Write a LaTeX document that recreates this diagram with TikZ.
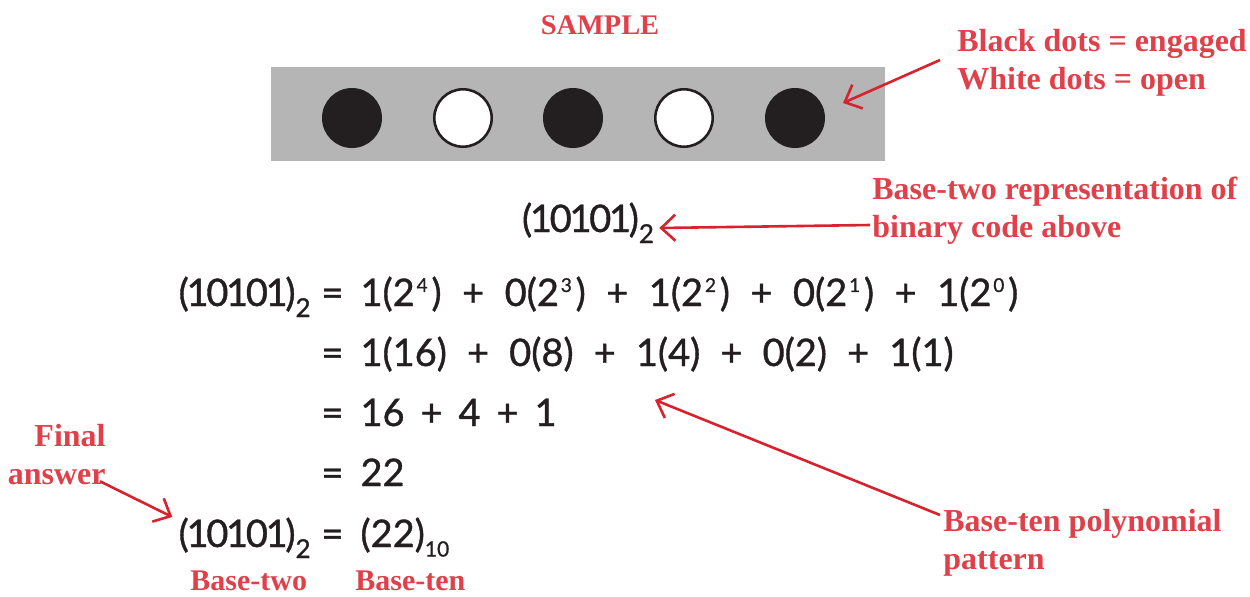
\documentclass[tikz,border=0pt]{standalone}
\usepackage{fontspec}
\setmainfont{Liberation Serif}
\newfontfamily\handfont[FakeBold=1]{Lato}
\newfontfamily\handtight[FakeBold=1,LetterSpace=-6]{Lato}
\usetikzlibrary{arrows.meta,calc}
\definecolor{ared}{RGB}{214,35,45}
\definecolor{tred}{RGB}{224,64,74}
\definecolor{dotblack}{RGB}{35,31,32}
\definecolor{boxgray}{RGB}{181,181,181}
\newcommand{\supx}[1]{\hspace{0.05em}\raisebox{0.37em}{\fontsize{9.5}{9.5}\selectfont #1}\hspace{0.1em}}
\newcommand{\subx}[1]{\raisebox{-0.29em}{\fontsize{13}{13}\selectfont #1}}
\newcommand{\subsm}[1]{\raisebox{-0.25em}{\fontsize{10.5}{10.5}\selectfont #1}}
\newcommand{\bincode}{{\handtight(10101)}\subx{2}}
\newcommand{\plsa}{\hspace{0.54em}+\hspace{0.54em}}
\newcommand{\plsb}{\hspace{0.53em}+\hspace{0.53em}}
\newcommand{\plsc}{\hspace{0.42em}+\hspace{0.42em}}
\begin{document}
\begin{tikzpicture}[x=0.5pt,y=-0.5pt,
  lbl/.style={text=tred,font=\bfseries\fontsize{16}{19}\selectfont,inner sep=0pt},
  eq/.style={font=\handfont\fontsize{19}{22}\selectfont,inner sep=0pt,text=dotblack},
  arr/.style={draw=ared,line width=1.3pt,-{Straight Barb[length=7pt,width=13pt,line width=1.3pt]}},
  blackdot/.style={circle,fill=dotblack,minimum size=30pt,inner sep=0pt},
  whitedot/.style={circle,fill=white,draw=dotblack,line width=1.3pt,minimum size=28.7pt,inner sep=0pt}]
\fill[white] (0,0) rectangle (1250,596);
\useasboundingbox (0,0) rectangle (1250,596);
% title
\node[lbl,font=\bfseries\fontsize{14.2}{16}\selectfont] (sample) at (600,25) {SAMPLE};
% sample box
\node[fill=boxgray,minimum width=307pt,minimum height=47pt,inner sep=0pt] (box) at (578,114) {};
\node[blackdot] (d1) at (352,118) {};
\node[whitedot] (d2) at (463,118) {};
\node[blackdot] (d3) at (573,118) {};
\node[whitedot] (d4) at (684,118) {};
\node[blackdot] (d5) at (795,118) {};
\coordinate (boxtip) at (843,103);
% labels
\node[lbl,align=left,anchor=north west] (dotsl) at (957,29) {Black dots = engaged\\White dots = open};
\node[lbl,align=left,anchor=north west] (repl) at (872,177) {Base-two representation of\\binary code above};
\node[lbl,align=left,anchor=north west] (polyl) at (943,509) {Base-ten polynomial\\pattern};
\node[lbl,align=right,anchor=north east] (finall) at (106,424) {Final\\answer};
\node[lbl,font=\bfseries\fontsize{15}{18}\selectfont,anchor=north west] (btwo) at (190,570) {Base-two};
\node[lbl,font=\bfseries\fontsize{15}{18}\selectfont,anchor=north west] (bten) at (355,570) {Base-ten};
% equations
\node[eq,anchor=base] (bin) at (588,232) {\bincode};
\node[eq,anchor=base east] (l1l) at (311,306) {\bincode};
\node[eq,anchor=base west] (l1r) at (321,306) {=\hspace{0.45em}1(2\supx{4})\plsa 0(2\supx{3})\plsa 1(2\supx{2})\plsa 0(2\supx{1})\plsa 1(2\supx{0})};
\node[eq,anchor=base west] (l2) at (321,366) {=\hspace{0.45em}1(16)\plsb 0(8)\plsb 1(4)\plsb 0(2)\plsb 1(1)};
\node[eq,anchor=base west] (l3) at (321,426) {=\hspace{0.45em}16\plsc 4\plsc 1};
\node[eq,anchor=base west] (l4) at (321,486) {=\hspace{0.45em}22};
\node[eq,anchor=base east] (l5l) at (311,547) {\bincode};
\node[eq,anchor=base west] (l5r) at (321,547) {=\hspace{0.45em}(22)\subsm{10}};
\coordinate (polytip) at (655,400);
% arrows
\draw[arr] ($(dotsl.west |- 0,60)+(-17,0)$) -- (boxtip);
\draw[arr] ($(repl.west |- 0,225)+(-2,0)$) -- ($(bin.east |- 0,228)+(5,0)$);
\draw[arr] ($(polyl.north west)+(-3,6)$) -- (polytip);
\draw[arr] ($(finall.south east)+(-6,-4)$) -- ($(l5l.west |- 0,517)+(-6,0)$);
\end{tikzpicture}
\end{document}
